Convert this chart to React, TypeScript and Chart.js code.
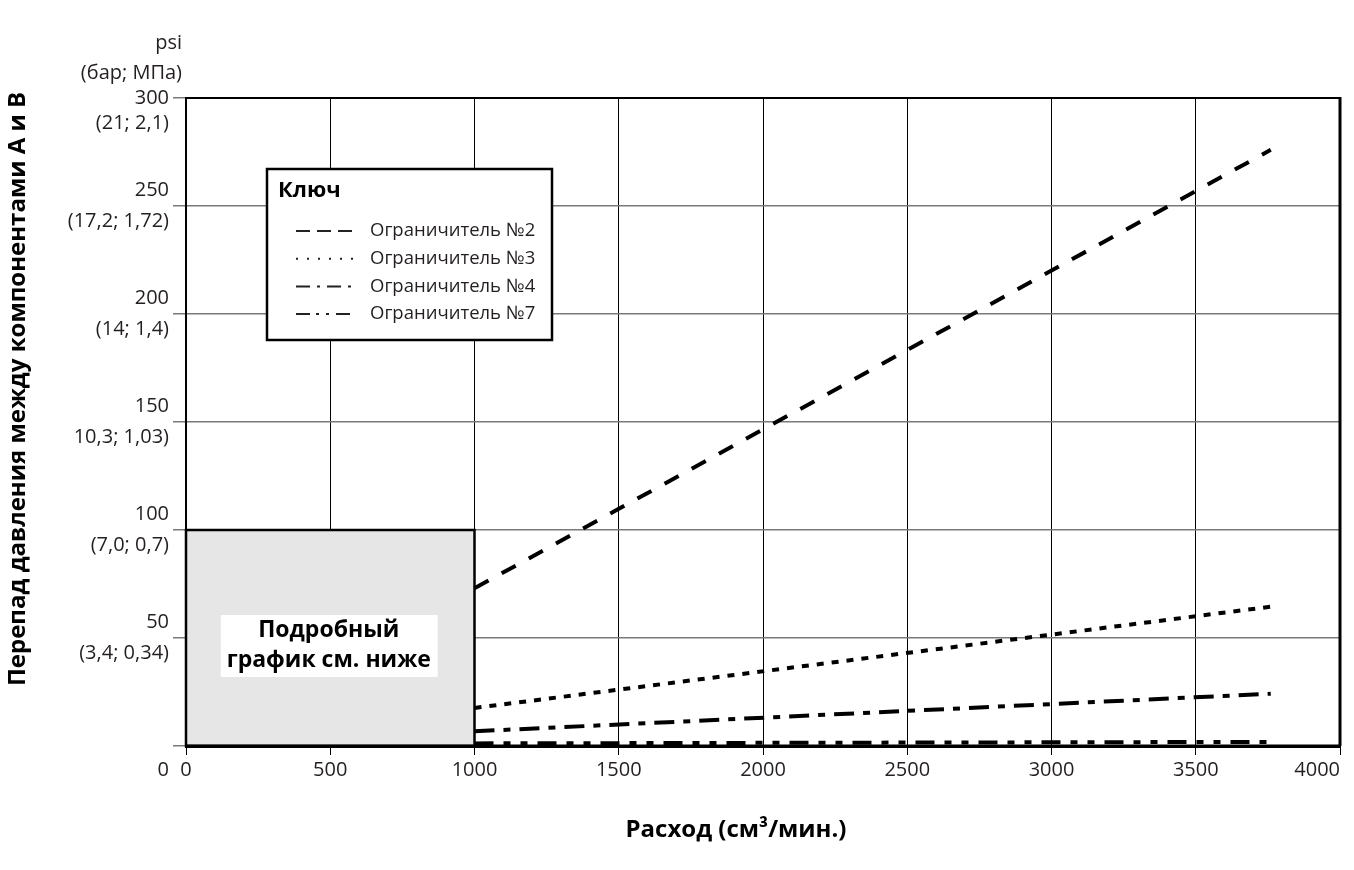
import React, { useEffect, useRef } from 'react';
import { Chart, registerables } from 'chart.js';

Chart.register(...registerables);

// ---------- data ----------
const flowRates = [1000, 3760];
const restrictor2 = [73, 276];
const restrictor3 = [17.6, 64.5];
const restrictor4 = [6.8, 24.2];
const restrictor7 = [1.2, 1.9];
const seriesLabels = ['Ограничитель №2', 'Ограничитель №3', 'Ограничитель №4', 'Ограничитель №7'];

const xTickValues = [0, 500, 1000, 1500, 2000, 2500, 3000, 3500, 4000];
const xTickLabels = ['0', '500', '1000', '1500', '2000', '2500', '3000', '3500', '4000'];
const yTickValues = [0, 50, 100, 150, 200, 250, 300];
const yTickPsi = ['0', '50', '100', '150', '200', '250', '300'];
const yTickMetric = ['', '(3,4; 0,34)', '(7,0; 0,7)', '10,3; 1,03)', '(14; 1,4)', '(17,2; 1,72)', '(21; 2,1)'];

const detailFlowRange = [0, 1000];
const detailPressureRange = [0, 100];
const detailText = ['Подробный', 'график см. ниже'];
const legendTitle = 'Ключ';
const xTitle = 'Расход (см³/мин.)';
const yTitle = 'Перепад давления между компонентами А и В';
const unitLines = ['psi', '(бар; МПа)'];

// ---------- styles ----------
const FONT = "'Open Sans', 'Noto Sans', sans-serif";
const TEXT = '#231f20';
const chartDash = [
  [16, 15],
  [7, 8],
  [20, 9, 7, 9],
  [19, 10, 7, 10, 7, 10],
];
const legendDash = [
  [14, 7],
  [2, 9],
  [14, 7, 3, 7],
  [14, 6, 3, 7, 3, 7],
];

const seriesValues = [restrictor2, restrictor3, restrictor4, restrictor7];

const decorPlugin = {
  id: 'decor',
  beforeDatasetsDraw(chart: any) {
    const { ctx, chartArea: ca, scales } = chart;
    const xs = scales.x;
    const ys = scales.y;
    ctx.save();
    // frame top and right
    ctx.strokeStyle = '#000';
    ctx.lineWidth = 2;
    ctx.beginPath();
    ctx.moveTo(ca.left, ca.top);
    ctx.lineTo(ca.right, ca.top);
    ctx.stroke();
    ctx.lineWidth = 3;
    ctx.beginPath();
    ctx.moveTo(ca.right, ca.top - 1);
    ctx.lineTo(ca.right, ca.bottom);
    ctx.stroke();

    // detail box
    const x0 = xs.getPixelForValue(detailFlowRange[0]);
    const x1 = xs.getPixelForValue(detailFlowRange[1]);
    const y0 = ys.getPixelForValue(detailPressureRange[0]);
    const y1 = ys.getPixelForValue(detailPressureRange[1]);
    ctx.fillStyle = '#e6e6e6';
    ctx.fillRect(x0, y1, x1 - x0, y0 - y1);
    ctx.strokeStyle = '#000';
    ctx.lineWidth = 2.5;
    ctx.strokeRect(x0, y1, x1 - x0, y0 - y1);
    ctx.lineWidth = 3;
    ctx.beginPath();
    ctx.moveTo(x0 - 1, y0);
    ctx.lineTo(ca.right, y0);
    ctx.stroke();

    const cx = (x0 + x1) / 2 - 1.5;
    const cy = (y0 + y1) / 2 + 8;
    ctx.fillStyle = '#fff';
    ctx.fillRect(cx - 108, cy - 31, 217, 62);
    ctx.fillStyle = '#000';
    ctx.font = `bold 23px ${FONT}`;
    ctx.textAlign = 'center';
    ctx.textBaseline = 'middle';
    ctx.fillText(detailText[0], cx, cy - 16);
    ctx.fillText(detailText[1], cx, cy + 14);
    ctx.restore();
  },
  afterDatasetsDraw(chart: any) {
    const { ctx, chartArea: ca } = chart;
    ctx.save();
    // legend box
    const lx = ca.left + 81;
    const ly = ca.top + 71;
    const lw = 285;
    const lh = 171;
    ctx.fillStyle = '#fff';
    ctx.fillRect(lx, ly, lw, lh);
    ctx.strokeStyle = '#000';
    ctx.lineWidth = 2.5;
    ctx.strokeRect(lx, ly, lw, lh);
    ctx.fillStyle = '#000';
    ctx.font = `bold 22px ${FONT}`;
    ctx.textAlign = 'left';
    ctx.textBaseline = 'middle';
    ctx.fillText(legendTitle, lx + 11, ly + 22);
    ctx.font = `18.5px ${FONT}`;
    chart.data.datasets.forEach((ds: any, i: number) => {
      const ry = ly + 62 + i * 27.7;
      ctx.strokeStyle = '#222';
      ctx.lineWidth = 2;
      ctx.setLineDash(legendDash[i]);
      ctx.beginPath();
      ctx.moveTo(lx + 29, ry);
      ctx.lineTo(lx + 88, ry);
      ctx.stroke();
      ctx.setLineDash([]);
      ctx.fillStyle = TEXT;
      ctx.fillText(ds.label, lx + 103, ry);
    });
    ctx.restore();
  },
  afterDraw(chart: any) {
    const { ctx, chartArea: ca } = chart;
    ctx.save();
    ctx.fillStyle = TEXT;
    // unit lines above y axis
    ctx.font = `20px ${FONT}`;
    ctx.textAlign = 'right';
    ctx.textBaseline = 'middle';
    ctx.fillText(unitLines[0], ca.left - 4, ca.top - 55);
    ctx.fillText(unitLines[1], ca.left - 4, ca.top - 25);
    // x title
    ctx.fillStyle = '#000';
    ctx.font = `bold 24px ${FONT}`;
    ctx.textAlign = 'center';
    ctx.fillText(xTitle, 736, ca.bottom + 84);
    // y title
    ctx.translate(18, (ca.top + ca.bottom) / 2 - 33);
    ctx.rotate(-Math.PI / 2);
    ctx.fillText(yTitle, 0, 0);
    ctx.restore();
  },
};

export default function App() {
  const canvasRef = useRef<HTMLCanvasElement | null>(null);

  useEffect(() => {
    if (!canvasRef.current) return;
    Chart.defaults.font.family = FONT;
    Chart.defaults.color = TEXT;

    const datasets = seriesLabels.map((label, i) => ({
      label,
      data: flowRates.map((x, j) => ({ x, y: seriesValues[i][j] })),
      borderColor: '#000',
      borderWidth: 4,
      borderDash: chartDash[i],
      borderCapStyle: 'butt' as const,
      pointRadius: 0,
      tension: 0,
      fill: false,
    }));

    const lastY = yTickValues[yTickValues.length - 1];

    const chart = new Chart(canvasRef.current, {
      type: 'line',
      data: { datasets },
      plugins: [decorPlugin],
      options: {
        responsive: false,
        animation: false,
        events: [],
        layout: { padding: { left: 0, top: 98, right: 14, bottom: 0 } },
        plugins: {
          legend: { display: false },
          tooltip: { enabled: false },
        },
        scales: {
          x: {
            type: 'linear',
            min: xTickValues[0],
            max: xTickValues[xTickValues.length - 1],
            afterBuildTicks: (s: any) => {
              s.ticks = xTickValues.map((v) => ({ value: v }));
            },
            afterFit: (s: any) => {
              s.height = 124;
              s.paddingLeft = 0;
              s.paddingRight = 0;
            },
            ticks: {
              autoSkip: false,
              maxRotation: 0,
              padding: 3,
              color: TEXT,
              font: { size: 20, family: FONT },
              callback: (v: any) => {
                const i = xTickValues.indexOf(Number(v));
                const t = xTickLabels[i];
                return i === xTickValues.length - 1 ? t + '\u2007\u2007\u2007\u2007' : t;
              },
            },
            grid: { color: '#000', lineWidth: 1, tickLength: 9, tickColor: '#000', drawOnChartArea: true },
            border: { color: '#000', width: 3 },
          },
          y: {
            type: 'linear',
            min: yTickValues[0],
            max: lastY,
            afterBuildTicks: (s: any) => {
              s.ticks = yTickValues.map((v) => ({ value: v }));
            },
            afterFit: (s: any) => {
              s.width = 186;
              s.paddingTop = 0;
              s.paddingBottom = 0;
            },
            ticks: {
              autoSkip: false,
              padding: 4,
              color: TEXT,
              font: (c: any) => {
                const v = c.tick ? c.tick.value : -1;
                return {
                  size: 20,
                  family: FONT,
                  lineHeight: v === 0 ? 2.4 : v === lastY ? 1.25 : 1.55,
                };
              },
              callback: (v: any) => {
                const i = yTickValues.indexOf(Number(v));
                if (!yTickMetric[i]) return ['', yTickPsi[i]];
                if (yTickValues[i] === lastY) return ['', yTickPsi[i], yTickMetric[i]];
                return [yTickPsi[i], yTickMetric[i]];
              },
            },
            grid: { color: '#7a7a7a', lineWidth: 1.5, tickLength: 13, tickColor: '#7a7a7a' },
            border: { color: '#000', width: 2 },
          },
        },
      },
    } as any);

    return () => chart.destroy();
  }, []);

  return (
    <div style={{ position: 'fixed', left: 0, top: 0, width: 1354, height: 870, background: '#fff' }}>
      <canvas ref={canvasRef} width={1354} height={870} style={{ display: 'block' }} />
    </div>
  );
}
